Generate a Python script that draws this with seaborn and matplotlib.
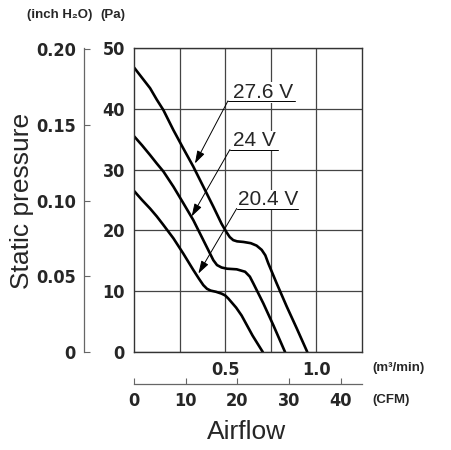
import numpy as np
import pandas as pd
import seaborn as sns
import matplotlib.pyplot as plt

# P-Q curves: airflow in m3/min, static pressure in Pa
volts = ['27.6 V', '24 V', '20.4 V']

flow_276 = [0, .044, .088, .125, .161, .216, .270, .325, .380, .435, .480, .505, .525, .544, .565,
            .600, .640, .672, .700, .720, .736, .782, .837, .892, .95]
pa_276 = [46.8, 45.1, 43.4, 41.5, 39.8, 36.5, 33.5, 30.5, 27.2, 23.9, 21.1, 19.8, 18.9, 18.4, 18.2,
          18.1, 17.9, 17.5, 16.8, 15.9, 14.6, 11.3, 7.5, 3.9, 0]

flow_24 = [0, .044, .088, .125, .161, .216, .270, .325, .380, .435, .455, .480, .510, .563, .609,
           .635, .654, .709, .764, .828]
pa_24 = [35.5, 34.0, 32.4, 31.0, 29.7, 27.2, 24.5, 21.7, 18.4, 15.1, 14.3, 13.9, 13.7, 13.6, 13.2,
         12.4, 11.3, 8.0, 4.4, 0]

flow_204 = [0, .044, .088, .125, .161, .216, .270, .325, .355, .380, .400, .420, .450, .480, .500,
            .517, .560, .590, .650, .706]
pa_204 = [26.5, 25.0, 23.6, 22.3, 20.9, 18.7, 16.2, 13.5, 12.1, 11.0, 10.4, 10.1, 9.9, 9.6, 9.3,
          8.8, 7.3, 6.0, 2.7, 0]

x_ticks = [0.25, 0.5, 0.75, 1.0]
x_labels = ['', '0.5', '', '1.0']
pa_ticks = [0, 10, 20, 30, 40, 50]
inch_ticks = [0, 0.05, 0.10, 0.15, 0.20]
inch_labels = ['0', '0.05', '0.10', '0.15', '0.20']
cfm_ticks = [0, 10, 20, 30, 40]

PA_PER_INCH = 249.09
CFM_PER_M3 = 35.3147

df = pd.concat([
    pd.DataFrame({'flow': flow_276, 'pa': pa_276, 'volt': volts[0]}),
    pd.DataFrame({'flow': flow_24, 'pa': pa_24, 'volt': volts[1]}),
    pd.DataFrame({'flow': flow_204, 'pa': pa_204, 'volt': volts[2]}),
])

sns.set_theme(style='white')
plt.rcParams['font.family'] = ['Liberation Sans', 'DejaVu Sans']
num_font = dict(fontfamily=['DejaVu Sans'], fontstretch='condensed',
                fontweight='bold', fontsize=13)
small_font = dict(family=['Liberation Sans', 'DejaVu Sans'], weight='bold', size=9.5)

fig = plt.figure(figsize=(4.51, 4.5), dpi=100)
ax = fig.add_axes([134 / 451, 98 / 450, 228 / 451, 304 / 450])

sns.lineplot(data=df, x='flow', y='pa', hue='volt', palette=['black'] * 3, sort=False,
             estimator=None, lw=1.9, legend=False, ax=ax)

ax.set_xlim(0, 1.25)
ax.set_ylim(0, 50)
ax.set_xticks(x_ticks, labels=x_labels, **num_font)
ax.set_yticks(pa_ticks, labels=[str(t) for t in pa_ticks], **num_font)
ax.tick_params(length=0, pad=6.5)
ax.set_xlabel('')
ax.set_ylabel('')
ax.set_axisbelow(True)
ax.grid(True, color='#444444', lw=0.9)
for s in ax.spines.values():
    s.set_color('#333333')
    s.set_linewidth(1.0)

# inch H2O axis on the far left
sec_y = ax.secondary_yaxis(-50 / 228, functions=(lambda p: p / PA_PER_INCH, lambda i: i * PA_PER_INCH))
sec_y.set_yticks(inch_ticks, labels=inch_labels, **num_font)
sec_y.tick_params(direction='in', length=4.3, width=0.8, color='#666666', pad=5.8)
sec_y.spines['left'].set_color('#666666')
sec_y.spines['left'].set_linewidth(0.9)

# CFM axis under the plot
sec_x = ax.secondary_xaxis(-32 / 304, functions=(lambda m: m * CFM_PER_M3, lambda c: c / CFM_PER_M3))
sec_x.set_xticks(cfm_ticks, labels=[str(t) for t in cfm_ticks], **num_font)
sec_x.tick_params(direction='in', length=4, width=0.8, color='#666666', pad=5.5)
sec_x.spines['bottom'].set_color('#666666')
sec_x.spines['bottom'].set_linewidth(0.9)

# voltage callouts
callouts = [
    ('27.6 V', (0.515, 0.883, 41.3), (0.543, 41.8), (0.334, 31.0)),
    ('24 V', (0.526, 0.788, 33.3), (0.543, 33.8), (0.316, 22.3)),
    ('20.4 V', (0.563, 0.901, 23.6), (0.570, 24.1), (0.353, 12.9)),
]
for label, (ux0, ux1, uy), (tx, ty), tip in callouts:
    ax.text(tx, ty, label, fontsize=15, va='baseline', ha='left', zorder=3,
            bbox=dict(fc='white', ec='none', pad=0.6))
    ax.plot([ux0, ux1], [uy, uy], color='black', lw=0.7, zorder=4)
    ax.annotate('', xy=tip, xytext=(ux0, uy), zorder=4,
                arrowprops=dict(arrowstyle='-|>,head_length=0.7,head_width=0.22', color='black',
                                lw=0.7, shrinkA=0, shrinkB=0, mutation_scale=11))

# unit captions and axis titles
fig.text(27 / 451, 1 - 15 / 450, '(inch H₂O)', va='center', ha='left', fontdict=small_font)
fig.text(100 / 451, 1 - 15 / 450, '(Pa)', va='center', ha='left', fontdict=small_font)
fig.text(372 / 451, 1 - 368 / 450, '(m³/min)', va='center', ha='left', fontdict=small_font)
fig.text(372 / 451, 1 - 400 / 450, '(CFM)', va='center', ha='left', fontdict=small_font)
fig.text(247 / 451, 1 - 432 / 450, 'Airflow', va='center', ha='center', fontsize=19)
fig.text(22 / 451, 1 - 201 / 450, 'Static pressure', va='center', ha='center', rotation=90, fontsize=19)

fig.savefig('out.png', dpi=100)
